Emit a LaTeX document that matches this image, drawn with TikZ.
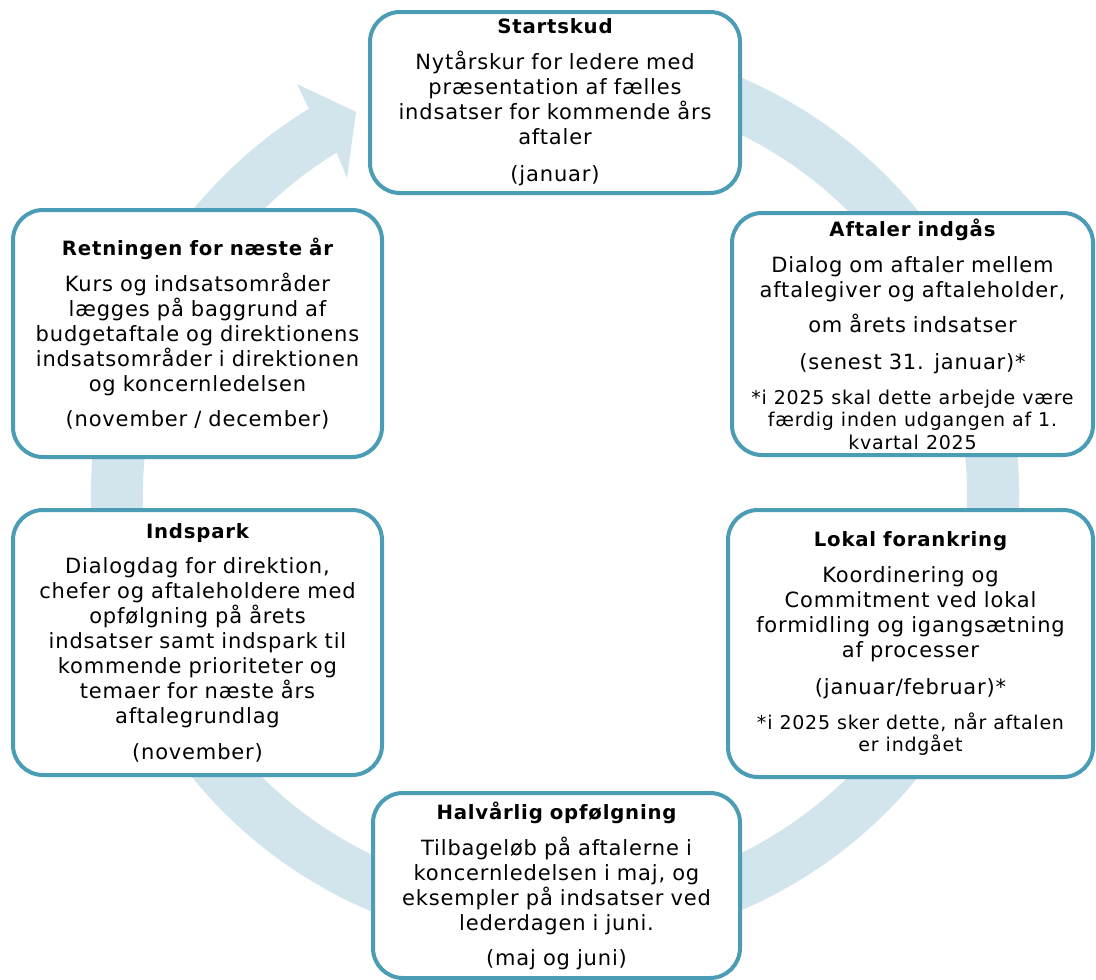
\documentclass[tikz,border=0pt]{standalone}
\usepackage{fontspec}
\setmainfont[LetterSpace=4]{DejaVu Sans}
\definecolor{ringblue}{RGB}{210,228,236}
\definecolor{boxblue}{RGB}{74,157,181}
\newcommand{\boxtitle}[1]{{\bfseries\fontsize{19.7}{25}\selectfont #1\par}}
\newcommand{\fnote}[1]{{\fontsize{19}{22.5}\selectfont #1\par}}
\tikzset{
  ringline/.style={draw=ringblue, line width=52pt},
  ringhead/.style={fill=ringblue},
  card/.style={draw=boxblue, line width=4pt, fill=white, rounded corners=30pt,
    align=center, inner sep=2pt, text width=356pt,
    font=\fontsize{21}{25}\selectfont},
}
\begin{document}
\begin{tikzpicture}[x=1pt,y=1pt]
\useasboundingbox (0,0) rectangle (1096,-980);
% ring with arrow
\coordinate (ringC) at (555,-494);
\path (ringC) ++(80:438 and 428.5) coordinate (ringstart);
\draw[ringline] (ringstart) arc[start angle=80, end angle=-239.5, x radius=438, y radius=428.5];
\coordinate (hj1) at (309,-109);
\coordinate (hb1) at (297,-84);
\coordinate (htip) at (356,-112);
\coordinate (hb2) at (347,-178);
\coordinate (hj2) at (336.5,-152);
\fill[ringhead] (hj1) -- (hb1) -- (htip) -- (hb2) -- (hj2) -- cycle;
% boxes
\node[card, minimum width=370pt, minimum height=181pt] (start) at (555,-102.5) {%
\boxtitle{Startskud}\vspace{11pt}%
Nytårskur for ledere med\\ præsentation af fælles\\ indsatser for kommende års\\ aftaler\par
\vspace{12pt}(januar)};
\node[card, minimum width=361pt, minimum height=242pt] (aftaler) at (912.5,-334) {%
\boxtitle{Aftaler indgås}\vspace{11pt}%
Dialog om aftaler mellem\\ aftalegiver og aftaleholder,\par
\vspace{10pt}om årets indsatser\par
\vspace{12pt}(senest 31. januar)*\par
\vspace{12.5pt}\fnote{*i 2025 skal dette arbejde være\\ færdig inden udgangen af 1.\\ kvartal 2025}};
\node[card, minimum width=365pt, minimum height=267pt] (lokal) at (910.5,-643.5) {%
\boxtitle{Lokal forankring}\vspace{11pt}%
Koordinering og\\ Commitment ved lokal\\ formidling og igangsætning\\ af processer\par
\vspace{12pt}(januar/februar)*\par
\vspace{12.5pt}\fnote{*i 2025 sker dette, når aftalen\\ er indgået}};
\node[card, minimum width=367pt, minimum height=185pt] (halv) at (556.5,-885.5) {%
\boxtitle{Halvårlig opfølgning}\vspace{11pt}%
Tilbageløb på aftalerne i\\ koncernledelsen i maj, og\\ eksempler på indsatser ved\\ lederdagen i juni.\par
\vspace{10pt}(maj og juni)};
\node[card, minimum width=369pt, minimum height=247pt] (retning) at (197.5,-333.5) {%
\boxtitle{Retningen for næste år}\vspace{11pt}%
Kurs og indsatsområder\\ lægges på baggrund af\\ budgetaftale og direktionens\\ indsatsområder i direktionen\\ og koncernledelsen\par
\vspace{10pt}(november / december)};
\node[card, minimum width=369pt, minimum height=265pt] (indspark) at (197.5,-642.5) {%
\boxtitle{Indspark}\vspace{10pt}%
Dialogdag for direktion,\\ chefer og aftaleholdere med\\ opfølgning på årets\\ indsatser samt indspark til\\ kommende prioriteter og\\ temaer for næste års\\ aftalegrundlag\par
\vspace{11pt}(november)};
\end{tikzpicture}
\end{document}
